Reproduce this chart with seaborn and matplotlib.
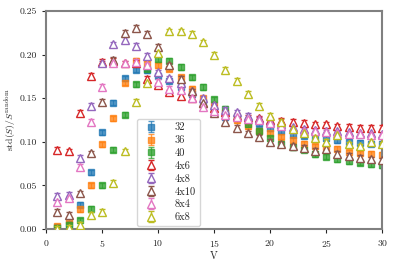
import numpy as np
import matplotlib
matplotlib.use('Agg')
import matplotlib.pyplot as plt
import seaborn as sns

# values, V = 1..30
V = list(range(1, 31))

s32 = [0.002, 0.006, 0.028, 0.065, 0.111, 0.145, 0.173, 0.183, 0.182, 0.176,
       0.170, 0.163, 0.155, 0.146, 0.136, 0.128, 0.127, 0.124, 0.121, 0.116,
       0.112, 0.108, 0.107, 0.105, 0.104, 0.102, 0.100, 0.099, 0.098, 0.098]
s36 = [0.003, 0.010, 0.023, 0.050, 0.097, 0.127, 0.168, 0.193, 0.190, 0.188,
       0.184, 0.174, 0.161, 0.150, 0.142, 0.133, 0.125, 0.118, 0.113, 0.110,
       0.106, 0.102, 0.098, 0.095, 0.094, 0.092, 0.088, 0.087, 0.086, 0.085]
s40 = [0.001, 0.004, 0.010, 0.023, 0.050, 0.091, 0.131, 0.166, 0.184, 0.195,
       0.193, 0.186, 0.174, 0.163, 0.149, 0.138, 0.128, 0.120, 0.112, 0.104,
       0.098, 0.094, 0.091, 0.086, 0.083, 0.080, 0.078, 0.076, 0.074, 0.073]
s4x6 = [0.091, 0.089, 0.133, 0.176, 0.192, 0.193, 0.190, 0.191, 0.172, 0.165,
        0.157, 0.153, 0.150, 0.145, 0.139, 0.134, 0.130, 0.128, 0.127, 0.125,
        0.124, 0.123, 0.122, 0.120, 0.120, 0.118, 0.117, 0.116, 0.116, 0.116]
s4x8 = [0.038, 0.039, 0.082, 0.141, 0.190, 0.212, 0.217, 0.210, 0.199, 0.180,
        0.173, 0.167, 0.158, 0.150, 0.142, 0.137, 0.134, 0.130, 0.126, 0.123,
        0.120, 0.117, 0.115, 0.114, 0.113, 0.112, 0.111, 0.110, 0.110, 0.109]
s4x10 = [0.020, 0.016, 0.041, 0.087, 0.146, 0.194, 0.225, 0.231, 0.224, 0.209,
         0.188, 0.172, 0.158, 0.145, 0.133, 0.123, 0.116, 0.110, 0.105, 0.100,
         0.097, 0.095, 0.093, 0.090, 0.092, 0.086, 0.084, 0.082, 0.080, 0.079]
s8x4 = [0.031, 0.035, 0.071, 0.123, 0.163, 0.190, 0.190, 0.192, 0.188, 0.169,
        0.161, 0.159, 0.150, 0.140, 0.135, 0.131, 0.128, 0.126, 0.125, 0.122,
        0.118, 0.115, 0.113, 0.112, 0.111, 0.110, 0.109, 0.109, 0.108, 0.108]
s6x8 = [0.000, 0.001, 0.005, 0.016, 0.020, 0.053, 0.089, 0.146, 0.167, 0.202,
        0.227, 0.227, 0.224, 0.214, 0.200, 0.183, 0.170, 0.155, 0.141, 0.130,
        0.123, 0.115, 0.110, 0.104, 0.100, 0.108, 0.097, 0.095, 0.100, 0.097]

labels = ['32', '36', '40', '4x6', '4x8', '4x10', '8x4', '6x8']
series = [s32, s36, s40, s4x6, s4x8, s4x10, s8x4, s6x8]
err = 0.003

# Set the theme, then the fonts (LaTeX look)
sns.set_style('ticks')
plt.rcParams['font.family'] = 'serif'
plt.rcParams['font.serif'] = ['cmr10', 'DejaVu Serif']
plt.rcParams['mathtext.fontset'] = 'cm'
plt.rcParams['axes.formatter.use_mathtext'] = True
plt.rcParams['axes.unicode_minus'] = False

tab = sns.color_palette('tab10')
colors = [tab[0], tab[1], tab[2], tab[3], tab[4], tab[5], tab[6], tab[8]]

fig = plt.figure(figsize=(3.94, 2.65), dpi=100)
ax = fig.add_axes([0.117, 0.136, 0.853, 0.822])

# squares for the square lattices, open triangles for the rectangular ones
for i, (lab, vals) in enumerate(zip(labels, series)):
    if i < 3:
        ax.errorbar(V, vals, yerr=err, fmt='s', color=colors[i], ms=5, alpha=0.75,
                    capsize=2, elinewidth=1, label=lab, zorder=2)
    else:
        ax.errorbar(V, vals, yerr=err, fmt='^', color=colors[i], ms=5.5, mfc='white',
                    mew=1.0, capsize=2, elinewidth=1, label=lab, zorder=3)

ax.set_xlim(0, 30)
ax.set_ylim(0, 0.25)
ax.set_xticks([0, 5, 10, 15, 20, 25, 30])
ax.set_yticks([0, 0.05, 0.10, 0.15, 0.20, 0.25])
ax.yaxis.set_major_formatter(matplotlib.ticker.FormatStrFormatter('%.2f'))
ax.tick_params(labelsize=7, length=3, width=0.8, color='0.15')

for sp in ax.spines.values():
    sp.set_color('0.5')
    sp.set_linewidth(1.5)

ax.set_xlabel('V', fontsize=7.5)
ax.set_ylabel(r'$\mathrm{std}(S)/S^{\mathrm{random}}$', fontsize=7)
ax.xaxis.set_label_coords(0.5, -0.105)
ax.yaxis.set_label_coords(-0.083, 0.5)

ax.legend(loc='lower left', bbox_to_anchor=(0.27, 0.012), fontsize=7.5,
          labelspacing=0.32, borderaxespad=0.0, handletextpad=1.2)

plt.savefig('out.png', dpi=100)
